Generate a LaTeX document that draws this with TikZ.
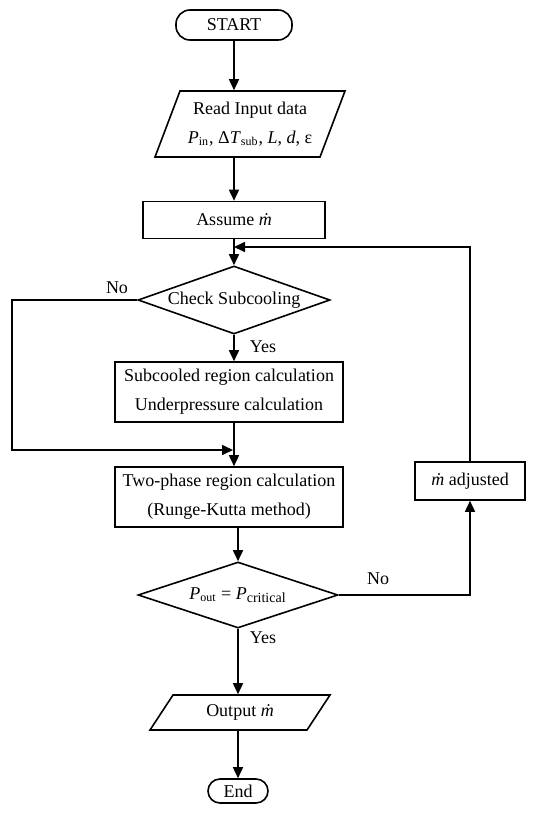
\documentclass[tikz,border=0pt]{standalone}
\usepackage{fontspec}
\setmainfont{Liberation Serif}
\usetikzlibrary{arrows.meta,shapes.geometric}
\newcommand\mdt{\textit{\.m}}
\begin{document}
\begin{tikzpicture}[x=0.5pt,y=-0.5pt,line width=0.8pt,
  font=\fontsize{9}{13}\selectfont,
  arr/.style={-{Triangle[length=5.5pt,width=5pt]}},
  proc/.style={draw,rectangle,inner sep=0pt,align=center},
  term/.style={draw,rectangle,rounded corners=7pt,inner sep=0pt},
  dec/.style={draw,diamond,aspect=2.8,inner sep=0pt},
  txt/.style={inner sep=0pt,align=center},
  lbl/.style={inner sep=0pt}]
\useasboundingbox (0,0) rectangle (536,814);

% nodes
\node[term,minimum width=58pt,minimum height=15pt] (start) at (234,25) {START};
\draw (155,157) -- (180,91) -- (345,91) -- (320,157) -- cycle;
\node[txt,minimum height=33pt] (read) at (250,124)
  {Read Input data\\[1.5pt]\textit{P}\textsubscript{in}, Δ\textit{T}\textsubscript{sub}, \textit{L}, \textit{d}, ε};
\node[proc,minimum width=91pt,minimum height=18.5pt] (assume) at (234,220) {Assume \mdt};
\coordinate (j) at (234,247);
\node[dec,minimum width=96pt,minimum height=34pt] (chk) at (234,300) {Check Subcooling};
\node[proc,minimum width=114pt,minimum height=30pt] (sub) at (229,392)
  {Subcooled region calculation\\[1.5pt]Underpressure calculation};
\coordinate (lc) at (12,450);
\coordinate (m) at (233,450);
\node[proc,minimum width=114pt,minimum height=30pt] (two) at (229,497)
  {Two-phase region calculation\\[1.5pt](Runge-Kutta method)};
\node[dec,minimum width=100pt,minimum height=33pt] (pc) at (238,595)
  {\textit{P}\textsubscript{out} = \textit{P}\textsubscript{\scriptsize critical}};
\node[proc,minimum width=55pt,minimum height=19pt] (adj) at (470,481) {\mdt\ adjusted};
\draw (150,730) -- (173,695) -- (330,695) -- (307,730) -- cycle;
\node[txt,minimum height=17.5pt] (out) at (240,712.5) {Output \mdt};
\node[term,minimum width=30pt,minimum height=12pt,rounded corners=6pt] (endn) at (238,791) {End};

% labels
\node[lbl] (no1) at (117,288) {No};
\node[lbl] (yes1) at (263,347) {Yes};
\node[lbl] (no2) at (378,579) {No};
\node[lbl] (yes2) at (263,638) {Yes};

% connectors
\draw[arr] (start) -- (start |- read.north);
\draw[arr] (read.south -| assume.north) -- (assume.north);
\draw[arr] (assume) -- (chk);
\draw[arr] (adj.north) |- (j);
\draw[arr] (chk.west) -| (lc) -- (m);
\draw[arr] (chk.south) -- (chk.south |- sub.north);
\draw[arr] (sub.south -| chk.south) -- (two.north -| chk.south);
\draw[arr] (two.south -| pc.north) -- (pc.north);
\draw[arr] (pc.east) -| (adj.south);
\draw[arr] (pc.south) -- (pc.south |- out.north);
\draw[arr] (out.south -| endn.north) -- (endn.north);
\end{tikzpicture}
\end{document}
